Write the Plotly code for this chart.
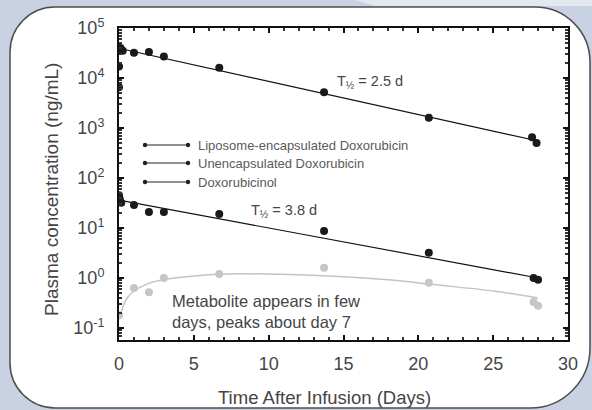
import plotly.graph_objects as go

# ---------------- data ----------------
lipo_x = [0, 0, 0.05, 0.1, 0.25, 1, 2, 3, 6.7, 13.7, 20.7, 27.6, 27.9]
lipo_y = [6500, 17000, 36000, 40000, 35000, 32000, 33000, 27000, 16000, 5200, 1600, 650, 500]
lipo_fit_x = [0.2, 28]
lipo_fit_y = [38000, 550]

free_x = [0, 0.05, 0.15, 1, 2, 3, 6.7, 13.7, 20.7, 27.7, 28]
free_y = [45, 38, 32, 29, 21, 21, 19, 8.7, 3.2, 1.0, 0.92]
free_fit_x = [0, 28]
free_fit_y = [36, 1.0]

metab_x = [0, 1, 2, 3, 6.7, 13.7, 20.7, 27.7, 28]
metab_y = [0.18, 0.63, 0.52, 1.0, 1.2, 1.6, 0.8, 0.33, 0.28]
metab_fit_x = [0, 0.5, 1, 2, 3, 5, 7, 10, 14, 18, 21, 25, 28]
metab_fit_y = [0.15, 0.38, 0.55, 0.78, 0.93, 1.1, 1.2, 1.2, 1.1, 0.92, 0.74, 0.55, 0.4]

legend_labels = ["Liposome-encapsulated Doxorubicin", "Unencapsulated Doxorubicin", "Doxorubicinol"]
x_ticks = [0, 5, 10, 15, 20, 25, 30]
y_tickvals = [0.1, 1, 10, 100, 1000, 10000, 100000]
y_ticktext = ["10<sup>-1</sup>", "10<sup>0</sup>", "10<sup>1</sup>", "10<sup>2</sup>",
              "10<sup>3</sup>", "10<sup>4</sup>", "10<sup>5</sup>"]
x_title = "Time After Infusion (Days)"
y_title = "Plasma concentration (ng/mL)"

# ---------------- layout geometry ----------------
W, H = 592, 410
L, R, T, B = 119, 24, 28, 70
PW, PH = W - L - R, H - T - B
FONT = "Liberation Sans, Arial, sans-serif"
TXT = "#454545"


def px(x):
    return (x - L) / PW


def py(y):
    return (H - B - y) / PH


def rounded_path(x0, y0, x1, y1, rtl, rtr, rbr, rbl):
    k = 0.5523

    def P(x, y):
        return f"{px(x):.5f},{py(y):.5f}"
    s = f"M {P(x0 + rtl, y0)} L {P(x1 - rtr, y0)} "
    s += f"C {P(x1 - rtr + k * rtr, y0)} {P(x1, y0 + rtr - k * rtr)} {P(x1, y0 + rtr)} "
    s += f"L {P(x1, y1 - rbr)} "
    s += f"C {P(x1, y1 - rbr + k * rbr)} {P(x1 - rbr + k * rbr, y1)} {P(x1 - rbr, y1)} "
    s += f"L {P(x0 + rbl, y1)} "
    s += f"C {P(x0 + rbl - k * rbl, y1)} {P(x0, y1 - rbl + k * rbl)} {P(x0, y1 - rbl)} "
    s += f"L {P(x0, y0 + rtl)} "
    s += f"C {P(x0, y0 + rtl - k * rtl)} {P(x0 + rtl - k * rtl, y0)} {P(x0 + rtl, y0)} Z"
    return s


fig = go.Figure()

# fitted lines
fig.add_trace(go.Scatter(x=metab_fit_x, y=metab_fit_y, mode="lines",
                         line=dict(color="#c4c4c4", width=1.5, shape="spline"),
                         showlegend=False, hoverinfo="skip"))
fig.add_trace(go.Scatter(x=lipo_fit_x, y=lipo_fit_y, mode="lines",
                         line=dict(color="#111111", width=1.2), showlegend=False, hoverinfo="skip"))
fig.add_trace(go.Scatter(x=free_fit_x, y=free_fit_y, mode="lines",
                         line=dict(color="#111111", width=1.2), showlegend=False, hoverinfo="skip"))

# data points
fig.add_trace(go.Scatter(x=metab_x, y=metab_y, mode="markers", name=legend_labels[2],
                         marker=dict(color="#c6c6c6", size=8), showlegend=False))
fig.add_trace(go.Scatter(x=lipo_x, y=lipo_y, mode="markers", name=legend_labels[0],
                         marker=dict(color="#1a1a1a", size=8), showlegend=False))
fig.add_trace(go.Scatter(x=free_x, y=free_y, mode="markers", name=legend_labels[1],
                         marker=dict(color="#1a1a1a", size=8), showlegend=False))

shapes = []
# background card
shapes.append(dict(type="path", xref="paper", yref="paper", layer="below",
                   path=rounded_path(10, 7, 590, 408, 45, 55, 60, 45),
                   fillcolor="white", line=dict(color="#4d4d4d", width=1.5)))
# light tab at top right
shapes.append(dict(type="path", xref="paper", yref="paper", layer="below",
                   path=f"M {px(355):.5f},{py(0):.5f} L {px(592):.5f},{py(0):.5f} L {px(592):.5f},{py(6):.5f} L {px(375):.5f},{py(6):.5f} Z",
                   fillcolor="#e4e8ef", line=dict(width=0)))

annotations = []
# hand-drawn legend
leg_rows = [145, 163, 182]
for lab, yy in zip(legend_labels, leg_rows):
    shapes.append(dict(type="line", xref="paper", yref="paper",
                       x0=px(145), x1=px(188), y0=py(yy), y1=py(yy),
                       line=dict(color="#222222", width=1)))
    for xx in (145, 188):
        shapes.append(dict(type="circle", xref="paper", yref="paper",
                           xsizemode="pixel", ysizemode="pixel",
                           xanchor=px(xx), yanchor=py(yy), x0=-2.2, x1=2.2, y0=-2.2, y1=2.2,
                           fillcolor="#222222", line=dict(width=0)))
    annotations.append(dict(xref="paper", yref="paper", x=px(196), y=py(yy),
                            xanchor="left", yanchor="middle", showarrow=False,
                            text=lab, font=dict(family=FONT, size=13, color="#5a5a5a")))

annotations += [
    dict(x=14.4, y=3.92, xref="x", yref="y", xanchor="left", yanchor="middle", showarrow=False,
         text="T<sub>½</sub> = 2.5 d", font=dict(family=FONT, size=14.5, color=TXT)),
    dict(x=8.7, y=1.34, xref="x", yref="y", xanchor="left", yanchor="middle", showarrow=False,
         text="T<sub>½</sub> = 3.8 d", font=dict(family=FONT, size=14.5, color=TXT)),
    dict(x=3.4, y=-0.66, xref="x", yref="y", xanchor="left", yanchor="middle", showarrow=False,
         align="left", text="Metabolite appears in few<br>days, peaks about day 7",
         font=dict(family=FONT, size=16.5, color=TXT)),
    # axis titles
    dict(xref="paper", yref="paper", x=px(324), y=py(397), xanchor="center", yanchor="middle",
         showarrow=False, text=x_title, font=dict(family=FONT, size=18.5, color=TXT)),
    dict(xref="paper", yref="paper", x=px(52), y=py(190), xanchor="center", yanchor="middle",
         showarrow=False, textangle=-90, text=y_title, font=dict(family=FONT, size=19, color=TXT)),
]

minor_y = [m * 10 ** e for e in range(-2, 5) for m in range(2, 10)]

fig.update_layout(
    width=W, height=H,
    margin=dict(l=L, r=R, t=T, b=B, autoexpand=False),
    paper_bgcolor="#c9d2e2",
    plot_bgcolor="white",
    showlegend=False,
    shapes=shapes,
    annotations=annotations,
    font=dict(family=FONT, color=TXT),
    xaxis=dict(
        range=[0, 30], tickvals=x_ticks, ticks="inside", ticklen=5, tickwidth=1.5,
        tickcolor="#111", showline=True, linewidth=2, linecolor="#111", mirror="ticks",
        showgrid=False, zeroline=False, tickfont=dict(size=18, color=TXT),
        ticklabelstandoff=6,
        minor=dict(dtick=1, ticks="inside", ticklen=3, tickcolor="#333", showgrid=False),
    ),
    yaxis=dict(
        type="log", range=[-1.24, 5], tickvals=y_tickvals, ticktext=y_ticktext,
        ticks="inside", ticklen=5, tickwidth=1.5, tickcolor="#111",
        showline=True, linewidth=2, linecolor="#111", mirror="ticks",
        showgrid=False, zeroline=False, tickfont=dict(size=18, color=TXT),
        ticklabelstandoff=9,
        minor=dict(tickvals=minor_y, ticks="inside", ticklen=3, tickcolor="#333", showgrid=False),
    ),
)

fig.write_html("out.html", config={"displayModeBar": False},
               post_script="document.body.style.margin='0';document.body.style.padding='0';")
